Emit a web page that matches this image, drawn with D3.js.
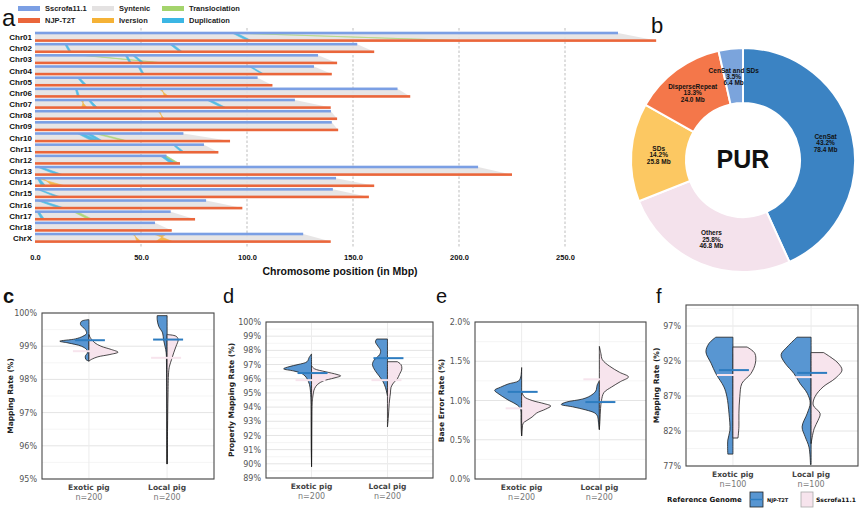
<!DOCTYPE html>
<html>
<head>
<meta charset="utf-8">
<script src="https://cdn.jsdelivr.net/npm/d3@7"></script>
<style>
  body { margin: 0; background: #fff; }
  svg { display: block; }
</style>
</head>
<body>
<svg id="fig"></svg>
<script>
const WIDTH = 865;
const HEIGHT = 510;

// ---------- panel a : synteny ----------
const chromosomes = ["Chr01","Chr02","Chr03","Chr04","Chr05","Chr06","Chr07","Chr08","Chr09","Chr10",
  "Chr11","Chr12","Chr13","Chr14","Chr15","Chr16","Chr17","Chr18","ChrX"];
const refLength = [275, 152, 133.5, 131.6, 105, 171, 122.6, 139.6, 140, 70, 79.7, 62, 209, 142, 140.5, 80.7, 64, 56.6, 126.5];
const t2tLength = [293, 160, 142.5, 140, 112, 177, 139.5, 142.5, 143, 92, 86.5, 68.4, 225, 160, 157.5, 97.8, 75.5, 64.5, 139.5];
// [chromosome, type, ref start, ref end, t2t start, t2t end] in Mbp
const links = [
  ["Chr01", "Translocation", 92, 93, 200, 201],
  ["Chr01", "Duplication", 93, 95, 100, 102],
  ["Chr02", "Duplication", 14, 15, 16, 17],
  ["Chr02", "Duplication", 63.5, 65, 68, 69.5],
  ["Chr03", "Translocation", 22, 23, 60, 61],
  ["Chr03", "Duplication", 42.5, 43.5, 44.5, 45.5],
  ["Chr03", "Duplication", 46, 47, 50, 51.5],
  ["Chr04", "Duplication", 48.5, 49.5, 50.5, 51.5],
  ["Chr04", "Duplication", 101, 102, 107, 108],
  ["Chr05", "Duplication", 20, 21, 23, 24.5],
  ["Chr06", "Duplication", 19, 19.8, 20, 21],
  ["Chr06", "Inversion", 58.5, 60, 61, 63],
  ["Chr07", "Inversion", 21.5, 23, 22, 24.5],
  ["Chr07", "Duplication", 25, 26, 28, 29.5],
  ["Chr07", "Duplication", 81, 83, 88, 90],
  ["Chr08", "Inversion", 58, 59, 60, 61],
  ["Chr10", "Duplication", 20, 23, 27, 30],
  ["Chr10", "Duplication", 24, 26, 30, 32],
  ["Chr10", "Translocation", 28, 30, 42, 44],
  ["Chr11", "Duplication", 65, 66, 69, 70.5],
  ["Chr12", "Duplication", 59, 61, 64, 67],
  ["Chr12", "Translocation", 61, 62, 67, 68],
  ["Chr13", "Duplication", 1, 3, 10, 13],
  ["Chr14", "Inversion", 1, 4, 8, 14],
  ["Chr14", "Duplication", 1, 2, 3, 5],
  ["Chr15", "Duplication", 1, 2, 10, 12],
  ["Chr16", "Duplication", 1, 3, 11, 14],
  ["Chr17", "Duplication", 1, 2, 3, 4.5],
  ["Chr17", "Translocation", 18, 20, 25, 27],
  ["ChrX", "Inversion", 46, 47, 48, 50],
  ["ChrX", "Inversion", 56, 62, 57, 65]
];
const mbTicks = [0, 50, 100, 150, 200, 250];
const legendNames = ["Sscrofa11.1", "NJP-T2T", "Syntenic", "Iversion", "Translociation", "Duplication"];

// ---------- panel b : repeat composition ----------
const repeatClasses = ["CenSat", "Others", "SDs", "DisperseRepeat", "CenSat and SDs"];
const repeatShare = [43.2, 25.8, 14.2, 13.3, 3.5];
const repeatMb = [78.4, 46.8, 25.8, 24.0, 6.4];

// ---------- panels c-f : split violins, [value, relative density] ----------
const groups = ["Exotic pig", "Local pig"];

const cNjpExotic = [[99.8,0],[99.75,0.25],[99.65,0.28],[99.5,0.12],[99.38,0.08],[99.3,0.2],[99.22,0.45],[99.15,0.97],[99.1,0.7],[99.0,0.25],[98.9,0.08],[98.8,0.05],[98.7,0.12],[98.6,0.1],[98.55,0]];
const cSscExotic = [[99.35,0],[99.25,0.05],[99.1,0.2],[99.0,0.4],[98.9,0.75],[98.82,0.97],[98.75,0.7],[98.68,0.3],[98.6,0.08],[98.55,0]];
const cNjpLocal = [[99.92,0.33],[99.8,0.33],[99.6,0.28],[99.4,0.15],[99.2,0.12],[99.0,0.07],[98.8,0.03],[98.5,0.02],[97.5,0.01],[96,0.005],[95.45,0]];
const cSscLocal = [[99.35,0],[99.3,0.3],[99.2,0.37],[99.0,0.3],[98.8,0.22],[98.6,0.15],[98.4,0.08],[98.2,0.05],[97.5,0.03],[96.5,0.015],[95.45,0]];
const cNjpMean = [99.18, 99.2];
const cSscMean = [98.85, 98.65];

const dNjpExotic = [[97.75,0],[97.5,0.08],[97.2,0.15],[97.0,0.45],[96.85,0.75],[96.7,0.93],[96.55,0.6],[96.4,0.35],[96.2,0.22],[96.0,0.15],[95.6,0.07],[95.2,0.04],[94.5,0.02],[93,0.015],[91,0.01],[89.8,0]];
const dSscExotic = [[96.9,0],[96.7,0.1],[96.5,0.45],[96.3,0.85],[96.2,0.97],[96.05,0.75],[95.85,0.4],[95.6,0.2],[95.3,0.1],[95.0,0.06],[94.7,0.04],[94.3,0.02],[93,0.01],[91,0.005],[89.8,0]];
const dNjpLocal = [[98.8,0.36],[98.6,0.4],[98.3,0.32],[98.0,0.23],[97.7,0.26],[97.3,0.45],[97.0,0.5],[96.6,0.42],[96.2,0.28],[95.8,0.15],[95.4,0.07],[95.0,0.02],[94.8,0]];
const dSscLocal = [[97.2,0.33],[97.0,0.45],[96.7,0.48],[96.3,0.4],[96.0,0.33],[95.7,0.2],[95.4,0.12],[95.0,0.1],[94.5,0.07],[94.0,0.05],[93.3,0.03],[92.6,0]];
const dNjpMean = [96.4, 97.45];
const dSscMean = [95.9, 95.9];

const eNjpExotic = [[1.42,0],[1.3,0.03],[1.25,0.1],[1.21,0.45],[1.17,0.7],[1.13,0.9],[1.08,0.75],[1.03,0.55],[1.0,0.42],[0.96,0.22],[0.92,0.08],[0.88,0.03],[0.75,0.02],[0.6,0.01],[0.55,0]];
const eSscExotic = [[1.12,0],[1.05,0.08],[1.0,0.35],[0.96,0.75],[0.93,0.97],[0.89,0.8],[0.84,0.5],[0.79,0.35],[0.74,0.15],[0.71,0.05],[0.65,0.02],[0.55,0]];
const eNjpLocal = [[1.25,0],[1.2,0.07],[1.12,0.12],[1.06,0.3],[1.02,0.55],[0.98,1.1],[0.95,1.27],[0.92,0.9],[0.88,0.45],[0.84,0.15],[0.8,0.06],[0.72,0.03],[0.63,0]];
const eSscLocal = [[1.69,0],[1.6,0.05],[1.52,0.1],[1.44,0.33],[1.36,0.67],[1.3,0.97],[1.24,0.7],[1.17,0.4],[1.1,0.15],[1.0,0.07],[0.9,0.04],[0.75,0.02],[0.63,0]];
const eNjpMean = [1.11, 0.98];
const eSscMean = [0.9, 1.27];

const fNjpExotic = [[95.4,0.57],[94.5,0.8],[93.3,0.9],[91.7,0.73],[90.2,0.57],[88.3,0.3],[86.9,0.2],[84.5,0.13],[82.1,0.1],[80.7,0.17],[78.7,0.17]];
const fSscExotic = [[94.0,0.47],[93.1,0.73],[91.7,0.75],[90.2,0.6],[88.8,0.3],[86.9,0.23],[84.5,0.2],[82.6,0.2],[81,0.17]];
const fNjpLocal = [[95.4,0.47],[94.0,0.8],[92.9,1.0],[91.7,0.87],[90.2,0.57],[88.8,0.37],[87.4,0.13],[86.0,0.03],[84.5,0.13],[82.6,0.3],[81.2,0.2],[79.7,0.07],[77.2,0.02]];
const fSscLocal = [[93.2,0.42],[92.4,0.7],[91.7,0.9],[90.7,1.03],[89.5,0.8],[88.3,0.4],[86.9,0.13],[85.7,0.07],[84.5,0.3],[83.5,0.23],[82.3,0.1],[80.2,0]];
const fNjpMean = [90.7, 90.3];
const fSscMean = [90.0, 89.7];

const cTicks = [95, 96, 97, 98, 99, 100];
const dTicks = [89, 90, 91, 92, 93, 94, 95, 96, 97, 98, 99, 100];
const eTicks = [0, 0.5, 1.0, 1.5, 2.0];
const fTicks = [77, 82, 87, 92, 97];

// ---------- styles ----------
const REF_COLOR = "#7b9fe4";
const T2T_COLOR = "#ea663b";
const SYN_COLOR = "#e4e2e2";
const linkColor = { Inversion: "#f5b236", Translocation: "#a4d46c", Duplication: "#3bb6e4" };
const NJP_FILL = "#5896d2";
const NJP_MEAN = "#2d7cc0";
const SSC_FILL = "#f7e4ed";
const ARIAL = "'Liberation Sans', Arial, sans-serif";
const DEJAVU = "'DejaVu Sans', sans-serif";

const svg = d3.select("#fig")
  .attr("width", WIDTH)
  .attr("height", HEIGHT)
  .style("font-family", ARIAL);

svg.append("rect").attr("width", WIDTH).attr("height", HEIGHT).attr("fill", "#fff");

// ================= panel a =================
const xMb = d3.scaleLinear().domain([0, 250]).range([35, 565]);
const yChr = d3.scalePoint().domain(chromosomes).range([37, 238]);
const REF_DY = -4;
const T2T_DY = 3.6;

const pa = svg.append("g");

pa.selectAll(".vgrid")
  .data(mbTicks.filter(d => d > 0))
  .join("line")
  .attr("x1", d => xMb(d)).attr("x2", d => xMb(d))
  .attr("y1", 28).attr("y2", 247)
  .attr("stroke", "#a0a0a0")
  .attr("stroke-width", 0.7)
  .attr("stroke-dasharray", "2.5,2");

pa.selectAll(".syn")
  .data(chromosomes)
  .join("path")
  .attr("d", (c, i) => {
    const y0 = yChr(c) + REF_DY, y1 = yChr(c) + T2T_DY;
    return `M${xMb(0)},${y0}L${xMb(refLength[i])},${y0}L${xMb(t2tLength[i])},${y1}L${xMb(0)},${y1}Z`;
  })
  .attr("fill", SYN_COLOR)
  .attr("opacity", 0.9);

pa.selectAll(".link")
  .data(links)
  .join("path")
  .attr("d", ([c, type, rs, re, ts, te]) => {
    const y0 = yChr(c) + REF_DY, y1 = yChr(c) + T2T_DY;
    if (type === "Inversion")
      return `M${xMb(rs)},${y0}L${xMb(re)},${y0}L${xMb(ts)},${y1}L${xMb(te)},${y1}Z`;
    return `M${xMb(rs)},${y0}L${xMb(re)},${y0}L${xMb(te)},${y1}L${xMb(ts)},${y1}Z`;
  })
  .attr("fill", d => linkColor[d[1]])
  .attr("stroke", d => linkColor[d[1]])
  .attr("stroke-width", 0.6)
  .attr("opacity", 0.85);

pa.selectAll(".refbar")
  .data(chromosomes)
  .join("rect")
  .attr("x", xMb(0))
  .attr("y", c => yChr(c) + REF_DY - 1.3)
  .attr("width", (c, i) => xMb(refLength[i]) - xMb(0))
  .attr("height", 2.6)
  .attr("fill", REF_COLOR);

pa.selectAll(".t2tbar")
  .data(chromosomes)
  .join("rect")
  .attr("x", xMb(0))
  .attr("y", c => yChr(c) + T2T_DY - 1.3)
  .attr("width", (c, i) => xMb(t2tLength[i]) - xMb(0))
  .attr("height", 2.6)
  .attr("fill", T2T_COLOR);

pa.selectAll(".chrlab")
  .data(chromosomes)
  .join("text")
  .attr("x", 32)
  .attr("y", c => yChr(c) + 3)
  .attr("text-anchor", "end")
  .attr("font-size", 8)
  .attr("font-weight", "bold")
  .attr("fill", "#111")
  .text(c => c);

const xAxisA = pa.append("g")
  .attr("transform", "translate(0,252)")
  .call(d3.axisBottom(xMb).tickValues(mbTicks).tickFormat(d3.format(".1f")).tickSize(0).tickPadding(3));
xAxisA.select(".domain").remove();
xAxisA.selectAll("text")
  .attr("font-family", ARIAL)
  .attr("font-size", 7.5)
  .attr("font-weight", "bold")
  .attr("fill", "#111");

pa.append("text")
  .attr("x", 340).attr("y", 275)
  .attr("text-anchor", "middle")
  .attr("font-size", 10.5)
  .attr("font-weight", "bold")
  .attr("fill", "#111")
  .text("Chromosome position (in Mbp)");

// legend
const legendColors = [REF_COLOR, T2T_COLOR, SYN_COLOR, linkColor.Inversion, linkColor.Translocation, linkColor.Duplication];
const legend = pa.selectAll(".leg")
  .data(legendNames)
  .join("g")
  .attr("transform", (d, i) => `translate(${[18, 92, 162][Math.floor(i / 2)]},${i % 2 ? 18 : 6})`);
legend.append("rect")
  .attr("width", 22).attr("height", 5)
  .attr("fill", (d, i) => legendColors[i]);
legend.append("text")
  .attr("x", 27).attr("y", 5)
  .attr("font-size", 7.5)
  .attr("font-weight", "bold")
  .attr("fill", "#222")
  .text(d => d);

pa.append("text").attr("x", 2).attr("y", 26).attr("font-size", 24).attr("fill", "#111").text("a");

// ================= panel b =================
const pb = svg.append("g").attr("transform", "translate(743,160)");
const pieColors = ["#3b83c3", "#f4e2ec", "#fcc862", "#f4774a", "#7ba4dc"];
const pie = d3.pie().sort(null).value(i => repeatShare[i]);
const arc = d3.arc().innerRadius(57).outerRadius(112);
const slices = pie(d3.range(repeatClasses.length));

pb.selectAll(".slice")
  .data(slices)
  .join("path")
  .attr("d", arc)
  .attr("fill", d => pieColors[d.data])
  .attr("stroke", "#fff")
  .attr("stroke-width", 2);

const sliceLab = pb.selectAll(".slab")
  .data(slices)
  .join("text")
  .attr("transform", d => `translate(${arc.centroid(d)})`)
  .attr("text-anchor", "middle")
  .attr("font-size", 6.5)
  .attr("font-weight", "bold")
  .attr("fill", "#111");
sliceLab.append("tspan").attr("x", 0).attr("dy", "-0.45em").text(d => repeatClasses[d.data]);
sliceLab.append("tspan").attr("x", 0).attr("dy", "0.95em").text(d => repeatShare[d.data].toFixed(1) + "%");
sliceLab.append("tspan").attr("x", 0).attr("dy", "0.95em").text(d => repeatMb[d.data].toFixed(1) + " Mb");

pb.append("text")
  .attr("y", 8)
  .attr("text-anchor", "middle")
  .attr("font-size", 25)
  .attr("font-weight", "bold")
  .attr("fill", "#111")
  .text("PUR");

svg.append("text").attr("x", 651).attr("y", 33).attr("font-size", 22).attr("fill", "#111").text("b");

// ================= panels c-f =================
const panels = [
  { letter: "c", bold: true, lx: 3, box: [42, 313, 214, 479], domain: [95, 100], ticks: cTicks, step: 1,
    fmt: d => d + "%", title: "Mapping Rate (%)", titleX: 13, n: "n=200", catY: 490,
    njp: [cNjpExotic, cNjpLocal], ssc: [cSscExotic, cSscLocal], njpMean: cNjpMean, sscMean: cSscMean },
  { letter: "d", bold: false, lx: 223, box: [266, 322, 433, 478], domain: [89, 100], ticks: dTicks, step: 1,
    fmt: d => d + "%", title: "Properly Mapping Rate (%)", titleX: 234, n: "n=200", catY: 489,
    njp: [dNjpExotic, dNjpLocal], ssc: [dSscExotic, dSscLocal], njpMean: dNjpMean, sscMean: dSscMean },
  { letter: "e", bold: false, lx: 436, box: [475, 322, 646, 479], domain: [0, 2], ticks: eTicks, step: 0.5,
    fmt: d => d3.format(".1f")(d) + "%", title: "Base Error Rate (%)", titleX: 444, n: "n=200", catY: 490,
    njp: [eNjpExotic, eNjpLocal], ssc: [eSscExotic, eSscLocal], njpMean: eNjpMean, sscMean: eSscMean },
  { letter: "f", bold: false, lx: 656, box: [686, 305, 858, 466], domain: [77, 100], ticks: fTicks, step: 5,
    fmt: d => d + "%", title: "Mapping Rate (%)", titleX: 659, n: "n=100", catY: 477,
    njp: [fNjpExotic, fNjpLocal], ssc: [fSscExotic, fSscLocal], njpMean: fNjpMean, sscMean: fSscMean }
];

const widthScale = d3.scaleLinear().domain([0, 1]).range([0, 30]);

panels.forEach(p => {
  const [x0, y0, x1, y1] = p.box;
  const y = d3.scaleLinear().domain(p.domain).range([y1, y0]);
  const x = d3.scalePoint().domain(groups).range([x0, x1]).padding(0.6);
  const g = svg.append("g");

  // minor + major grid
  const minor = p.ticks.map(t => t + p.step / 2).filter(t => t < p.domain[1]);
  g.selectAll(".minor").data(minor).join("line")
    .attr("x1", x0).attr("x2", x1)
    .attr("y1", d => y(d)).attr("y2", d => y(d))
    .attr("stroke", "#f2f2f2").attr("stroke-width", 0.8);
  g.selectAll(".major").data(p.ticks).join("line")
    .attr("x1", x0).attr("x2", x1)
    .attr("y1", d => y(d)).attr("y2", d => y(d))
    .attr("stroke", "#e4e4e4").attr("stroke-width", 1);
  g.selectAll(".vg").data(groups).join("line")
    .attr("x1", d => x(d)).attr("x2", d => x(d))
    .attr("y1", y0).attr("y2", y1)
    .attr("stroke", "#ececec").attr("stroke-width", 1);

  groups.forEach((grp, i) => {
    const cx = x(grp);
    const left = d3.area().curve(d3.curveCatmullRom.alpha(0.5))
      .y(d => y(d[0])).x0(cx).x1(d => cx - widthScale(d[1]));
    const right = d3.area().curve(d3.curveCatmullRom.alpha(0.5))
      .y(d => y(d[0])).x0(cx).x1(d => cx + widthScale(d[1]));

    g.append("path").datum(p.njp[i]).attr("d", left)
      .attr("fill", NJP_FILL).attr("stroke", "#1d1d1d").attr("stroke-width", 0.8);
    g.append("path").datum(p.ssc[i]).attr("d", right)
      .attr("fill", SSC_FILL).attr("stroke", "#1d1d1d").attr("stroke-width", 0.8);

    g.append("line")
      .attr("x1", cx - 16).attr("x2", cx + 14)
      .attr("y1", y(p.sscMean[i])).attr("y2", y(p.sscMean[i]))
      .attr("stroke", SSC_FILL).attr("stroke-width", 2);
    g.append("line")
      .attr("x1", cx - 14).attr("x2", cx + 16)
      .attr("y1", y(p.njpMean[i])).attr("y2", y(p.njpMean[i]))
      .attr("stroke", NJP_MEAN).attr("stroke-width", 2);
  });

  g.append("rect")
    .attr("x", x0).attr("y", y0)
    .attr("width", x1 - x0).attr("height", y1 - y0)
    .attr("fill", "none").attr("stroke", "#4a4a4a").attr("stroke-width", 1.1);

  const yAxis = g.append("g")
    .attr("transform", `translate(${x0},0)`)
    .call(d3.axisLeft(y).tickValues(p.ticks).tickFormat(p.fmt).tickSize(0).tickPadding(5));
  yAxis.select(".domain").remove();
  yAxis.selectAll("text")
    .attr("font-family", DEJAVU).attr("font-size", 8).attr("fill", "#555");

  g.append("text")
    .attr("transform", `translate(${p.titleX},${(y0 + y1) / 2}) rotate(-90)`)
    .attr("text-anchor", "middle")
    .attr("font-family", DEJAVU).attr("font-size", 7.5).attr("font-weight", "bold")
    .attr("fill", "#222")
    .text(p.title);

  g.selectAll(".cat").data(groups).join("text")
    .attr("x", d => x(d)).attr("y", p.catY)
    .attr("text-anchor", "middle")
    .attr("font-family", DEJAVU).attr("font-size", 7.5).attr("font-weight", "bold")
    .attr("fill", "#444")
    .text(d => d);
  g.selectAll(".nlab").data(groups).join("text")
    .attr("x", d => x(d)).attr("y", p.catY + 10)
    .attr("text-anchor", "middle")
    .attr("font-family", DEJAVU).attr("font-size", 8)
    .attr("fill", "#777")
    .text(p.n);

  svg.append("text")
    .attr("x", p.lx).attr("y", 303)
    .attr("font-size", 20)
    .attr("font-weight", p.bold ? "bold" : "normal")
    .attr("fill", "#111")
    .text(p.letter);
});

// legend for f
const fl = svg.append("g");
fl.append("text").attr("x", 667).attr("y", 502)
  .attr("font-family", DEJAVU).attr("font-size", 7).attr("font-weight", "bold").attr("fill", "#111")
  .text("Reference Genome");
fl.append("rect").attr("x", 750).attr("y", 492).attr("width", 13).attr("height", 15)
  .attr("fill", NJP_FILL).attr("stroke", "#222").attr("stroke-width", 0.8);
fl.append("line").attr("x1", 750).attr("x2", 763).attr("y1", 499.5).attr("y2", 499.5)
  .attr("stroke", NJP_MEAN).attr("stroke-width", 1.5);
fl.append("text").attr("x", 767).attr("y", 502)
  .attr("font-family", DEJAVU).attr("font-size", 5).attr("font-weight", "bold").attr("fill", "#111")
  .text("NJP-T2T");
fl.append("rect").attr("x", 801).attr("y", 492).attr("width", 12).attr("height", 15)
  .attr("fill", SSC_FILL).attr("stroke", "#aaa").attr("stroke-width", 0.8);
fl.append("text").attr("x", 816).attr("y", 502)
  .attr("font-family", DEJAVU).attr("font-size", 6).attr("font-weight", "bold").attr("fill", "#111")
  .text("Sscrofa11.1");
</script>
</body>
</html>
